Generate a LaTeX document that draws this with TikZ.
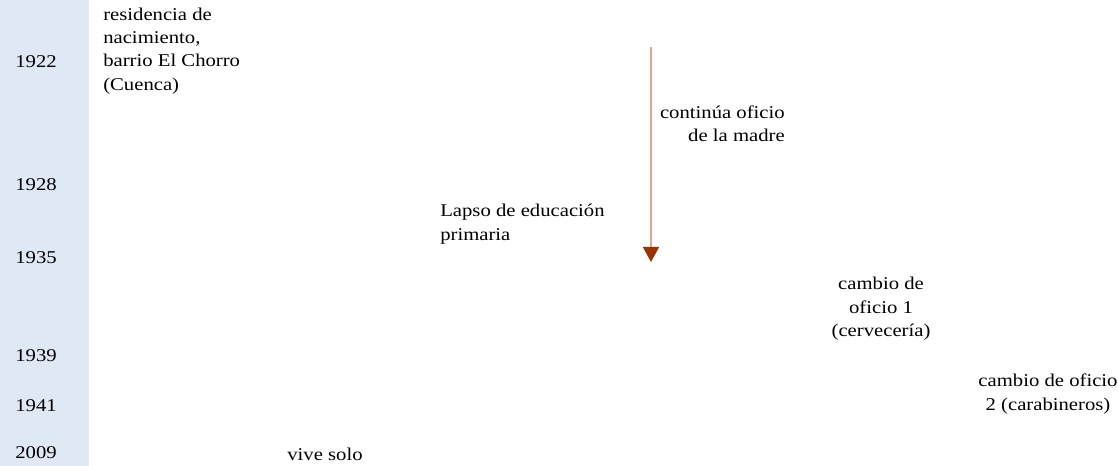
\documentclass[tikz,border=0pt]{standalone}
\usepackage{fontspec}
\setmainfont{Liberation Serif}[FakeStretch=1.15]
\usetikzlibrary{arrows.meta,positioning}
\definecolor{bandblue}{RGB}{222,233,245}
\definecolor{arrowline}{RGB}{222,168,146}
\definecolor{arrowhead}{RGB}{153,51,0}

\begin{document}
\begin{tikzpicture}[
  x=0.75pt, y=-0.75pt,
  year/.style={anchor=east, inner sep=0pt, font=\fontsize{13.5}{17.5}\selectfont},
  event/.style={inner sep=0pt, font=\fontsize{13.5}{17.5}\selectfont},
  arr/.style={-{Triangle[length=11.25pt, width=12pt, color=arrowhead]},
              line width=1.1pt, arrowline}
]
\useasboundingbox (0,0) rectangle (1118,466);
\clip (0,0) rectangle (1118,466);
\fill[bandblue] (0,0) rectangle (89,466);
% years
\node[year] (y1922) at (57,62) {1922};
\node[year] (y1928) at (57,185) {1928};
\node[year] (y1935) at (57,258) {1935};
\node[year] (y1939) at (57,356) {1939};
\node[year] (y1941) at (57,406) {1941};
\node[year] (y2009) at (57,453) {2009};
% events
\node[event, anchor=west, align=left] (birth) at (103,51)
  {residencia de\\ nacimiento,\\ barrio El Chorro\\ (Cuenca)};
\node[event, anchor=west, align=left] (school) at (440,224)
  {Lapso de educación\\ primaria};
\node[event, anchor=east, align=right] (mother) at (785,124)
  {continúa oficio\\ de la madre};
\node[event, align=center] (job1) at (881,309)
  {cambio de\\ oficio 1\\ (cervecería)};
\node[event, align=center] (job2) at (1048,394)
  {cambio de oficio\\ 2 (carabineros)};
\node[event] (alone) at (325,454) {vive solo};
% arrow
\coordinate (arrtop) at (651,47);
\coordinate (arrend) at (651,262);
\draw[arr] (arrtop) -- (arrend);
\end{tikzpicture}
\end{document}
